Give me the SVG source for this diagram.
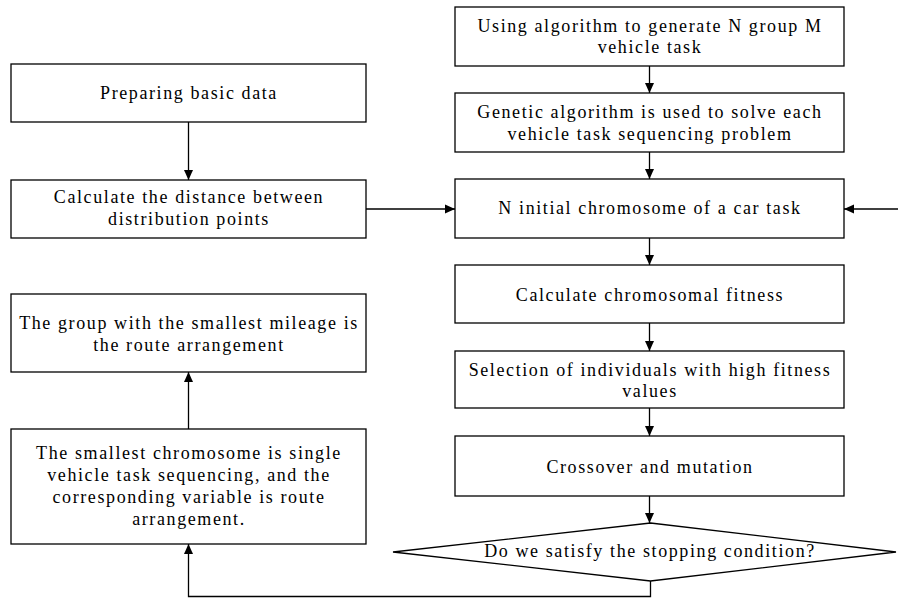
<svg xmlns="http://www.w3.org/2000/svg" width="898" height="598" viewBox="0 0 898 598">
<style>
.box{fill:#fff;stroke:#000;stroke-width:1.3}
text{font-family:'Liberation Serif','Times New Roman',serif;font-size:18px;letter-spacing:1.6px;text-anchor:middle;fill:#000}
.c{fill:none;stroke:#000;stroke-width:1.3}
</style>
<defs>
<marker id="ah" markerUnits="userSpaceOnUse" markerWidth="12" markerHeight="10" refX="10" refY="5" orient="auto">
<path d="M0,0.5 L10,5 L0,9.5 Z" fill="#000"/>
</marker>
</defs>
<rect width="898" height="598" fill="#fff"/>
<g id="connectors">
<line class="c" x1="649.5" y1="66" x2="649.5" y2="93" marker-end="url(#ah)"/>
<line class="c" x1="649.5" y1="152" x2="649.5" y2="179" marker-end="url(#ah)"/>
<line class="c" x1="649.5" y1="238" x2="649.5" y2="265" marker-end="url(#ah)"/>
<line class="c" x1="649.5" y1="323" x2="649.5" y2="351" marker-end="url(#ah)"/>
<line class="c" x1="649.5" y1="408" x2="649.5" y2="436" marker-end="url(#ah)"/>
<line class="c" x1="649.5" y1="496" x2="649.5" y2="523" marker-end="url(#ah)"/>
<line class="c" x1="188.5" y1="122" x2="188.5" y2="180" marker-end="url(#ah)"/>
<line class="c" x1="366" y1="209" x2="455" y2="209" marker-end="url(#ah)"/>
<line class="c" x1="898" y1="209" x2="844" y2="209" marker-end="url(#ah)"/>
<polyline class="c" points="650.5,581 650.5,596.5 188.5,596.5 188.5,544" marker-end="url(#ah)"/>
<line class="c" x1="188.5" y1="429" x2="188.5" y2="372" marker-end="url(#ah)"/>
</g>
<g id="n1">
<rect class="box" x="455" y="7" width="389" height="59"/>
<text x="650" y="32">Using algorithm to generate N group M</text>
<text x="650" y="53">vehicle task</text>
</g>
<g id="n2">
<rect class="box" x="455" y="93" width="389" height="59"/>
<text x="650" y="118">Genetic algorithm is used to solve each</text>
<text x="650" y="139.5">vehicle task sequencing problem</text>
</g>
<g id="n3">
<rect class="box" x="455" y="179" width="389" height="59"/>
<text x="650" y="214">N initial chromosome of a car task</text>
</g>
<g id="n4">
<rect class="box" x="455" y="265" width="389" height="58"/>
<text x="650" y="301">Calculate chromosomal fitness</text>
</g>
<g id="n5">
<rect class="box" x="455" y="351" width="389" height="57"/>
<text x="650" y="375.5">Selection of individuals with high fitness</text>
<text x="650" y="396.5">values</text>
</g>
<g id="n6">
<rect class="box" x="455" y="436" width="389" height="60"/>
<text x="650" y="472.5">Crossover and mutation</text>
</g>
<g id="n7">
<polygon class="box" points="650.5,523 896,552 650.5,581 393,552"/>
<text x="650" y="556.5">Do we satisfy the stopping condition?</text>
</g>
<g id="l1">
<rect class="box" x="11" y="64" width="355" height="58"/>
<text x="189" y="99">Preparing basic data</text>
</g>
<g id="l2">
<rect class="box" x="11" y="180" width="355" height="58"/>
<text x="189" y="203">Calculate the distance between</text>
<text x="189" y="225">distribution points</text>
</g>
<g id="l3">
<rect class="box" x="11" y="294" width="355" height="78"/>
<text x="189" y="329">The group with the smallest mileage is</text>
<text x="189" y="350.5">the route arrangement</text>
</g>
<g id="l4">
<rect class="box" x="11" y="429" width="355" height="115"/>
<text x="189" y="459">The smallest chromosome is single</text>
<text x="189" y="481">vehicle task sequencing, and the</text>
<text x="189" y="503">corresponding variable is route</text>
<text x="189" y="525">arrangement.</text>
</g>
</svg>
